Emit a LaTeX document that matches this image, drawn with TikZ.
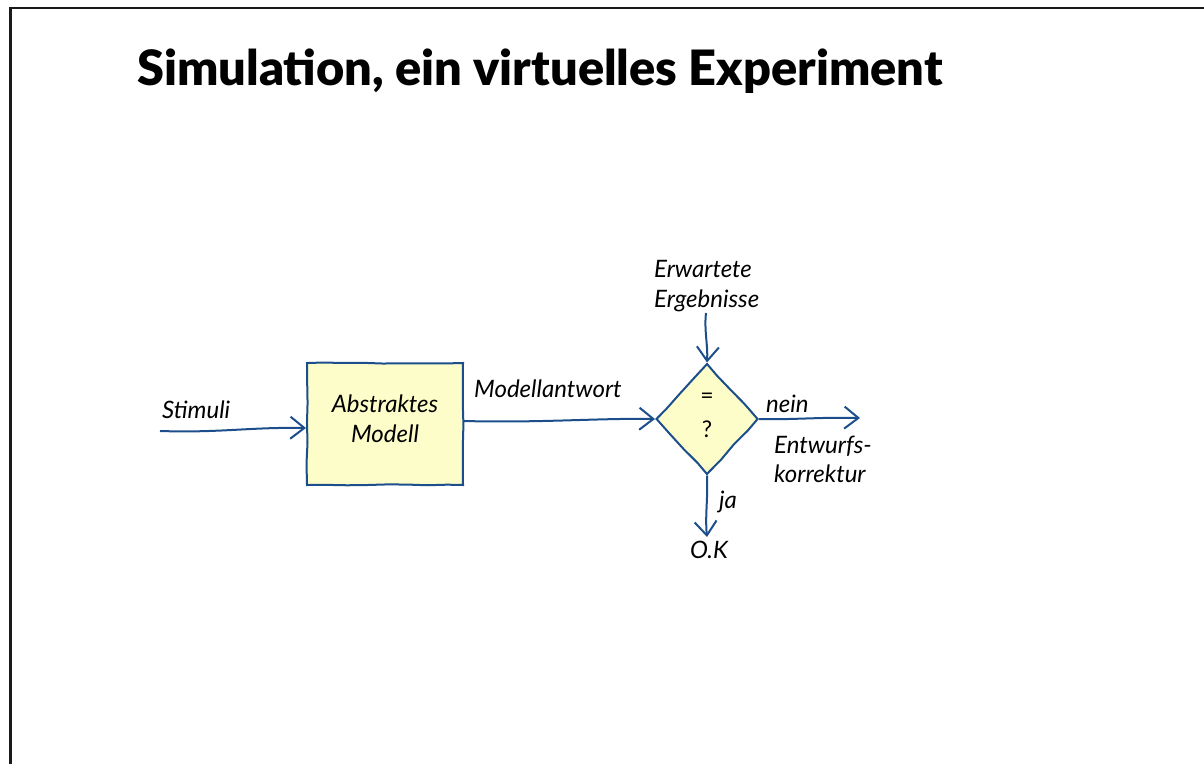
\documentclass[tikz,border=0pt]{standalone}
\usepackage{fontspec}
\setmainfont{Lato}
\newfontfamily\titlefont{Lato Black}
\usetikzlibrary{arrows.meta,shapes.geometric,decorations.pathmorphing}
\definecolor{inkblue}{HTML}{1B4E8A}
\definecolor{paleyellow}{HTML}{FDFDC9}
\definecolor{frame}{HTML}{1A1A1A}
\tikzset{
  sketch/.style={decorate,decoration={random steps,segment length=20pt,amplitude=0.6pt}},
  block/.style={draw=inkblue,fill=paleyellow,line width=2pt,sketch,inner sep=0pt},
  flow/.style={draw=inkblue,line width=2pt,-{Straight Barb[length=14pt,width=22pt,line width=2pt]}},
  lbl/.style={font=\fontsize{24}{29}\selectfont\itshape,inner sep=0pt},
  sym/.style={font=\fontsize{23}{28}\selectfont,inner sep=0pt},
}
\pgfmathsetseed{7}
\begin{document}
\begin{tikzpicture}[x=1pt,y=-1pt]
\useasboundingbox (0,0) rectangle (1204,763);
% slide frame
\draw[frame,line width=2.3pt] (10.5,775) -- (10.5,8) -- (1215,8);
% title
\node[anchor=base west,inner sep=0pt,font=\fontsize{48.7}{58}\titlefont] (title) at (137,85.5) {Simulation, ein virtuelles Experiment};

% blocks
\node[block,minimum width=156pt,minimum height=122pt] (model) at (385,424) {};
\node[block,diamond,minimum width=102pt,minimum height=111pt] (cmp) at (707,419) {};
\node[lbl,align=center] (modeltext) at (385,419) {Abstraktes\\[1pt]Modell};
\node[sym] (eq) at (707,398) {=};
\node[sym,anchor=base] (q) at (707,437) {?};

% free ends
\coordinate (in) at (160,431);
\coordinate (ref) at (706,313);
\coordinate (no) at (860,418);
\coordinate (yes) at (707,537);

% connectors, with a slight hand-drawn sway
\draw[flow] (in) .. controls (220,433) and (250,427) .. (model.west |- 0,428);
\draw[flow] (model.east |- 0,421) .. controls (540,423) and (600,418) .. (cmp.west);
\draw[flow] (ref) .. controls (704,330) and (708,345) .. (cmp.north);
\draw[flow] (cmp.east) .. controls (790,420) and (820,417) .. (no);
\draw[flow] (cmp.south) .. controls (708,500) and (705,515) .. (yes);

% labels
\node[lbl,anchor=base west] (stim) at (162,418) {Stimuli};
\node[lbl,anchor=base west] (resp) at (474,397) {Modellantwort};
\node[lbl,anchor=base west] (exp1) at (654,277) {Erwartete};
\node[lbl,anchor=base west] (exp2) at (654,307) {Ergebnisse};
\node[lbl,anchor=base west] (nein) at (766,412) {nein};
\node[lbl,anchor=base west] (corr1) at (774,453) {Entwurfs-};
\node[lbl,anchor=base west] (corr2) at (774,482) {korrektur};
\node[lbl,anchor=base west] (ja) at (719,508) {ja};
\node[lbl,anchor=base west] (ok) at (690,558) {O.K};
\end{tikzpicture}
\end{document}
